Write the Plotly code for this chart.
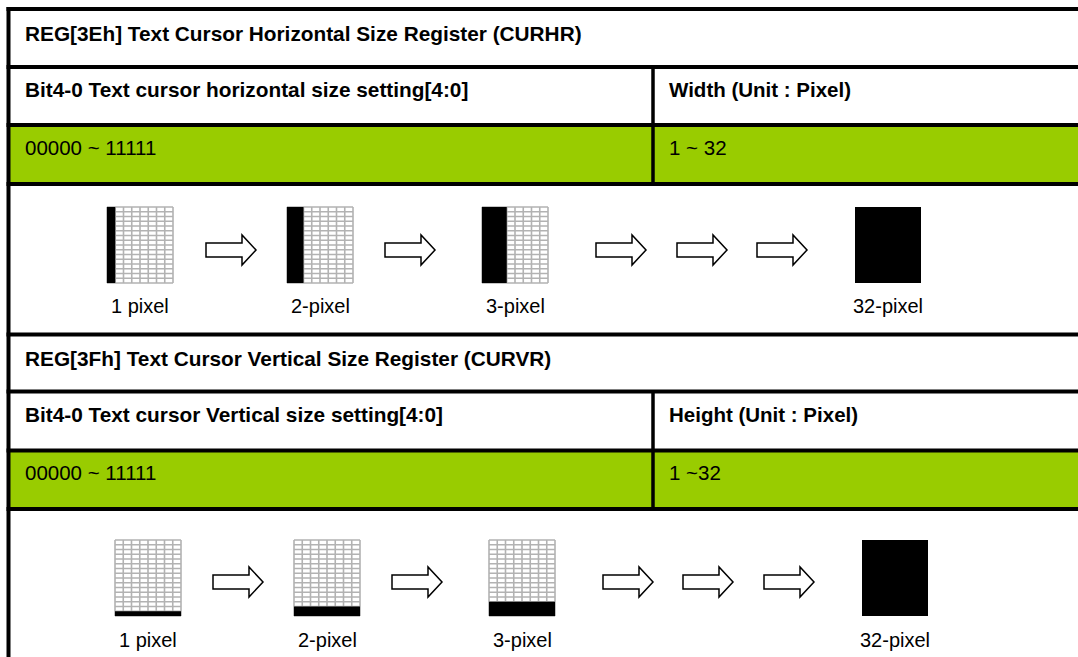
import plotly.graph_objects as go

# ---------------- data ----------------
reg_titles = ["REG[3Eh] Text Cursor Horizontal Size Register (CURHR)",
              "REG[3Fh] Text Cursor Vertical Size Register (CURVR)"]
bit_headers = ["Bit4-0 Text cursor horizontal size setting[4:0]",
               "Bit4-0 Text cursor Vertical size setting[4:0]"]
unit_headers = ["Width (Unit : Pixel)", "Height (Unit : Pixel)"]
bit_ranges = ["00000 ~ 11111", "00000 ~ 11111"]
value_ranges = ["1 ~ 32", "1 ~32"]
cursor_sizes = [1, 2, 3, 32]
size_labels = ["1 pixel", "2-pixel", "3-pixel", "32-pixel"]
grid_cols, grid_rows = 8, 16

# ---------------- layout constants ----------------
W, H = 1078, 657
FONT = "Liberation Sans, Arial, Helvetica, sans-serif"
GREEN = "#99CC00"
GRID_GRAY = "#b2b2b2"

# per-section geometry (horizontal section, vertical section)
sections = [
    dict(top=9, r1=67, r2=125, r3=184, pic_y=207, arrow_y=250, label_y=306,
         grid_x=[107, 287, 482, 855], arrow_x=[206, 385, 596, 677, 757]),
    dict(top=334.5, r1=391.5, r2=450.5, r3=509, pic_y=540, arrow_y=582, label_y=640,
         grid_x=[115, 294, 489, 862], arrow_x=[213, 392, 603, 683, 764]),
]
GRID_W, GRID_H = 66, 76
DIV_X = 653
LEFT_X = 8.5

shapes = []
annotations = []
traces = []


def line(x0, y0, x1, y1, w=4, color="black"):
    shapes.append(dict(type="line", x0=x0, y0=y0, x1=x1, y1=y1, xref="x", yref="y",
                       line=dict(color=color, width=w)))


def rect(x0, y0, x1, y1, fill, lw=0, lc="black"):
    shapes.append(dict(type="rect", x0=x0, y0=y0, x1=x1, y1=y1, xref="x", yref="y",
                       fillcolor=fill, line=dict(width=lw, color=lc), layer="above"))


def text(x, y, s, size=20.5, bold=False, anchor="left"):
    annotations.append(dict(x=x, y=y, xref="x", yref="y", text=(f"<b>{s}</b>" if bold else s),
                            showarrow=False, xanchor=anchor, yanchor="middle",
                            font=dict(family=FONT, size=size, color="black")))


for si, sec in enumerate(sections):
    # green band
    rect(LEFT_X, sec["r2"], W, sec["r3"], GREEN)
    # horizontal rules
    for y in [sec["top"], sec["r1"], sec["r2"], sec["r3"]]:
        line(LEFT_X - 2, y, W + 2, y, w=4)
    # column divider
    line(DIV_X, sec["r1"], DIV_X, sec["r3"], w=3.5)
    # texts
    text(23, (sec["top"] + sec["r1"]) / 2 - 5, reg_titles[si], size=20.8, bold=True)
    text(23, (sec["r1"] + sec["r2"]) / 2 - 7, bit_headers[si], size=20.8, bold=True)
    text(667, (sec["r1"] + sec["r2"]) / 2 - 7, unit_headers[si], size=20.5, bold=True)
    text(23, (sec["r2"] + sec["r3"]) / 2 - 7, bit_ranges[si])
    text(667, (sec["r2"] + sec["r3"]) / 2 - 7, value_ranges[si])

    # cursor grids
    cw = GRID_W / grid_cols
    rh = GRID_H / grid_rows
    for gi, n in enumerate(cursor_sizes):
        gx = sec["grid_x"][gi]
        gy = sec["pic_y"]
        full = n >= 32
        if not full:
            xs, ys = [], []
            for c in range(grid_cols + 1):
                xs += [gx + c * cw, gx + c * cw, None]
                ys += [gy, gy + GRID_H, None]
            for r in range(grid_rows + 1):
                xs += [gx, gx + GRID_W, None]
                ys += [gy + r * rh, gy + r * rh, None]
            traces.append(go.Scatter(x=xs, y=ys, mode="lines",
                                     line=dict(color=GRID_GRAY, width=1.6),
                                     hoverinfo="skip", showlegend=False))
        if si == 0:  # horizontal: fill columns from the left
            k = min(n, grid_cols)
            rect(gx, gy, gx + k * cw, gy + GRID_H, "black")
        else:        # vertical: fill rows from the bottom
            k = min(n, grid_rows)
            rect(gx, gy + GRID_H - k * rh, gx + GRID_W, gy + GRID_H, "black")
        text(gx + GRID_W / 2, sec["label_y"], size_labels[gi], size=20, anchor="center")

    # arrows
    for ax in sec["arrow_x"]:
        yc = sec["arrow_y"]
        path = (f"M {ax},{yc-7} L {ax+36},{yc-7} L {ax+36},{yc-15} L {ax+50},{yc} "
                f"L {ax+36},{yc+15} L {ax+36},{yc+7} L {ax},{yc+7} Z")
        shapes.append(dict(type="path", path=path, xref="x", yref="y",
                           fillcolor="white", line=dict(color="black", width=1.5)))

# outer left border
line(LEFT_X, 7, LEFT_X, H + 2, w=4)

fig = go.Figure(traces)
fig.update_layout(
    width=W, height=H,
    margin=dict(l=0, r=0, t=0, b=0),
    paper_bgcolor="white", plot_bgcolor="white",
    xaxis=dict(range=[0, W], visible=False, fixedrange=True),
    yaxis=dict(range=[H, 0], visible=False, fixedrange=True),
    shapes=shapes, annotations=annotations, showlegend=False,
)
fig.write_html(
    "out.html",
    config={"displayModeBar": False},
    post_script="document.body.style.margin='0';document.body.style.overflow='hidden';",
)
